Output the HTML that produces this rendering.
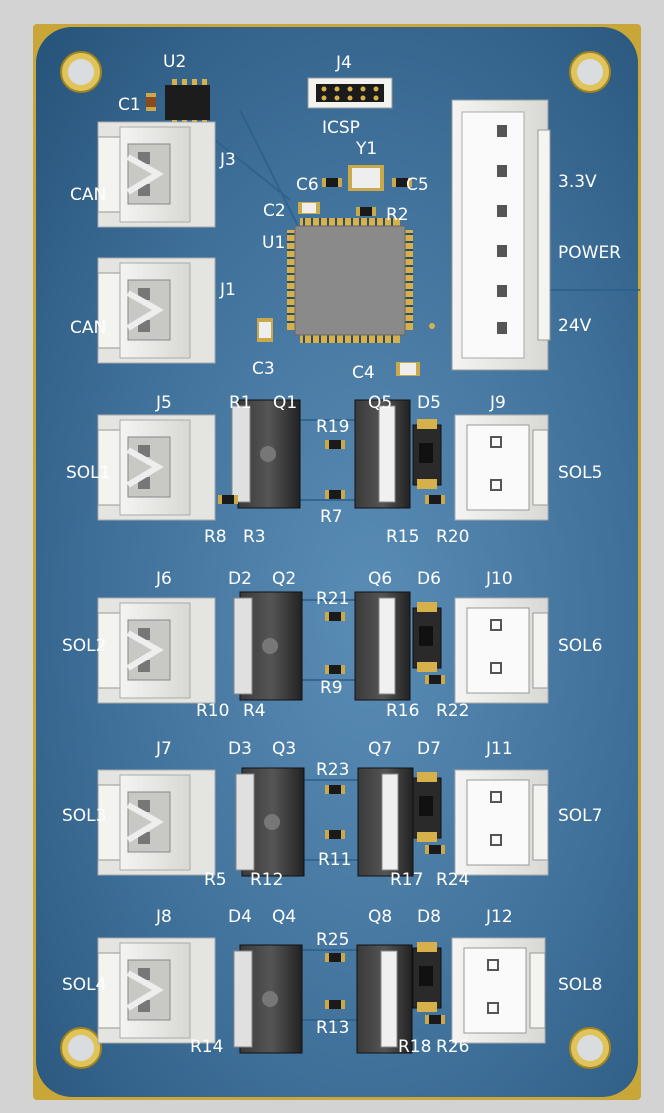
<!DOCTYPE html>
<html><head><meta charset="utf-8"><style>
html,body{margin:0;padding:0;background:#d3d3d3;}
svg{display:block}
text{font-family:"DejaVu Sans","Liberation Sans",sans-serif;fill:#fff;font-size:17px;}
</style></head><body>
<svg width="664" height="1113" viewBox="0 0 664 1113" xmlns="http://www.w3.org/2000/svg">
<defs>
<radialGradient id="bg" cx="0.55" cy="0.55" r="0.75">
<stop offset="0" stop-color="#5a8db6"/><stop offset="0.6" stop-color="#3e6f98"/><stop offset="1" stop-color="#28557c"/>
</radialGradient>
<linearGradient id="wh" x1="0" x2="1"><stop offset="0" stop-color="#f4f4f2"/><stop offset="1" stop-color="#d8d8d4"/></linearGradient>
<linearGradient id="tab" x1="0" x2="1"><stop offset="0" stop-color="#3a3a3a"/><stop offset="0.5" stop-color="#555"/><stop offset="1" stop-color="#222"/></linearGradient>
<g id="conL">
<rect x="0" y="0" width="117" height="105" fill="#e4e4e0" stroke="#aaa"/>
<rect x="0" y="15" width="22" height="75" fill="#f3f3f0" stroke="#999"/>
<rect x="22" y="5" width="70" height="95" fill="url(#wh)" stroke="#aaa"/>
<rect x="30" y="22" width="42" height="60" fill="#c8c8c4" stroke="#888"/>
<rect x="40" y="30" width="12" height="12" fill="#777"/><rect x="40" y="62" width="12" height="12" fill="#777"/>
<path d="M30 35 L60 52 L30 70" fill="none" stroke="#eee" stroke-width="6"/>
</g>
<g id="conR">
<rect x="0" y="0" width="93" height="105" fill="url(#wh)" stroke="#aaa"/>
<rect x="78" y="15" width="15" height="75" fill="#f3f3f0" stroke="#999"/>
<rect x="12" y="10" width="62" height="85" fill="#fafafa" stroke="#999"/>
<rect x="36" y="22" width="10" height="10" fill="none" stroke="#555" stroke-width="2"/>
<rect x="36" y="65" width="10" height="10" fill="none" stroke="#555" stroke-width="2"/>
</g>
<g id="mos">
<rect x="0" y="0" width="62" height="108" fill="url(#tab)" stroke="#111"/>
<rect x="-6" y="6" width="18" height="96" fill="#e0e0e0" stroke="#888"/>
<circle cx="30" cy="54" r="8" fill="#777"/>
</g>
<g id="mosR">
<rect x="0" y="0" width="55" height="108" fill="url(#tab)" stroke="#111"/>
<rect x="24" y="6" width="16" height="96" fill="#f0f0f0" stroke="#888"/>
</g>
<g id="res"><rect x="0" y="0" width="4" height="9" fill="#c9a94a"/><rect x="4" y="0" width="12" height="9" fill="#1a1a1a"/><rect x="16" y="0" width="4" height="9" fill="#c9a94a"/></g>
<g id="diode"><rect x="0" y="0" width="28" height="60" fill="#2a2a2a" stroke="#111"/><rect x="4" y="-6" width="20" height="10" fill="#d6b04a"/><rect x="4" y="54" width="20" height="10" fill="#d6b04a"/><rect x="6" y="18" width="14" height="20" fill="#111"/></g>
</defs>
<rect x="33" y="24" width="608" height="1076" rx="4" fill="#c8a637"/>
<rect x="36" y="27" width="602" height="1070" rx="36" fill="url(#bg)"/>
<g fill="#e0c35a" stroke="#9f8420" stroke-width="2">
<circle cx="81" cy="72" r="20"/><circle cx="590" cy="72" r="20"/><circle cx="81" cy="1048" r="20"/><circle cx="590" cy="1048" r="20"/></g>
<g fill="#d9dde0"><circle cx="81" cy="72" r="13"/><circle cx="590" cy="72" r="13"/><circle cx="81" cy="1048" r="13"/><circle cx="590" cy="1048" r="13"/></g>
<g stroke="#2d5f8c" stroke-width="2" fill="none" opacity="0.8">
<path d="M215 140 L290 200 M240 110 L300 230 M548 290 L640 290 M300 420 L360 420 M300 500 L360 500 M300 600 L360 600 M300 680 L360 680 M300 780 L360 780 M300 860 L360 860 M300 950 L360 950 M300 1020 L360 1020"/>
</g>
<rect x="165" y="85" width="45" height="35" fill="#1c1c1c"/>
<g fill="#d6b04a"><rect x="172" y="79" width="5" height="6"/><rect x="182" y="79" width="5" height="6"/><rect x="192" y="79" width="5" height="6"/><rect x="202" y="79" width="5" height="6"/>
<rect x="172" y="120" width="5" height="6"/><rect x="182" y="120" width="5" height="6"/><rect x="192" y="120" width="5" height="6"/><rect x="202" y="120" width="5" height="6"/></g>
<rect x="146" y="93" width="10" height="18" fill="#c9a94a"/><rect x="146" y="97" width="10" height="10" fill="#8a4a20"/>
<rect x="308" y="78" width="84" height="30" fill="#f2f2ee" stroke="#999"/>
<rect x="316" y="84" width="68" height="18" fill="#1b1b1b"/>
<g fill="#d6b04a"><circle cx="324" cy="89" r="2.5"/><circle cx="337" cy="89" r="2.5"/><circle cx="350" cy="89" r="2.5"/><circle cx="363" cy="89" r="2.5"/><circle cx="376" cy="89" r="2.5"/>
<circle cx="324" cy="98" r="2.5"/><circle cx="337" cy="98" r="2.5"/><circle cx="350" cy="98" r="2.5"/><circle cx="363" cy="98" r="2.5"/><circle cx="376" cy="98" r="2.5"/></g>
<rect x="348" y="165" width="36" height="26" fill="#c9a94a"/><rect x="352" y="168" width="28" height="20" fill="#eee"/>
<use href="#res" x="322" y="178"/><use href="#res" x="392" y="178"/>
<rect x="298" y="202" width="22" height="12" fill="#c9a94a"/><rect x="302" y="203" width="14" height="10" fill="#eee"/>
<use href="#res" x="356" y="207"/>
<g fill="#d6b04a">
<rect x="300" y="218" width="100" height="8"/><rect x="300" y="335" width="100" height="8"/>
<rect x="287" y="230" width="8" height="100"/><rect x="405" y="230" width="8" height="100"/></g>
<g stroke="#2e4b6a" stroke-width="2">
<path d="M304 218v8M312 218v8M320 218v8M328 218v8M336 218v8M344 218v8M352 218v8M360 218v8M368 218v8M376 218v8M384 218v8M392 218v8"/>
<path d="M304 335v8M312 335v8M320 335v8M328 335v8M336 335v8M344 335v8M352 335v8M360 335v8M368 335v8M376 335v8M384 335v8M392 335v8"/>
<path d="M287 234h8M287 242h8M287 250h8M287 258h8M287 266h8M287 274h8M287 282h8M287 290h8M287 298h8M287 306h8M287 314h8M287 322h8"/>
<path d="M405 234h8M405 242h8M405 250h8M405 258h8M405 266h8M405 274h8M405 282h8M405 290h8M405 298h8M405 306h8M405 314h8M405 322h8"/></g>
<rect x="295" y="226" width="110" height="109" fill="#8a8a8a" stroke="#666"/>
<rect x="257" y="318" width="16" height="24" fill="#c9a94a"/><rect x="259" y="322" width="12" height="16" fill="#eee"/>
<rect x="396" y="362" width="24" height="14" fill="#c9a94a"/><rect x="400" y="363" width="16" height="12" fill="#eee"/>
<circle cx="432" cy="326" r="3" fill="#d6b04a"/>
<use href="#conL" x="98" y="122"/><use href="#conL" x="98" y="258"/>
<rect x="452" y="100" width="96" height="270" fill="url(#wh)" stroke="#999"/>
<rect x="538" y="130" width="12" height="210" fill="#f4f4f0" stroke="#999"/>
<rect x="462" y="112" width="62" height="246" fill="#fafafa" stroke="#aaa"/>
<g fill="#555"><rect x="497" y="125" width="10" height="12"/><rect x="497" y="165" width="10" height="12"/><rect x="497" y="205" width="10" height="12"/><rect x="497" y="245" width="10" height="12"/><rect x="497" y="285" width="10" height="12"/><rect x="497" y="322" width="10" height="12"/></g>
<g>
<use href="#conL" x="98" y="415"/><use href="#conR" x="455" y="415"/>
<use href="#mos" x="238" y="400"/><use href="#mosR" x="355" y="400"/>
<use href="#diode" x="413" y="425"/>
<use href="#res" x="325" y="440"/><use href="#res" x="325" y="490"/><use href="#res" x="218" y="495"/><use href="#res" x="425" y="495"/>
<use href="#conL" x="98" y="598"/><use href="#conR" x="455" y="598"/>
<use href="#mos" x="240" y="592"/><use href="#mosR" x="355" y="592"/>
<use href="#diode" x="413" y="608"/>
<use href="#res" x="325" y="612"/><use href="#res" x="325" y="665"/><use href="#res" x="425" y="675"/>
<use href="#conL" x="98" y="770"/><use href="#conR" x="455" y="770"/>
<use href="#mos" x="242" y="768"/><use href="#mosR" x="358" y="768"/>
<use href="#diode" x="413" y="778"/>
<use href="#res" x="325" y="785"/><use href="#res" x="325" y="830"/><use href="#res" x="425" y="845"/>
<use href="#conL" x="98" y="938"/><use href="#conR" x="452" y="938"/>
<use href="#mos" x="240" y="945"/><use href="#mosR" x="357" y="945"/>
<use href="#diode" x="413" y="948"/>
<use href="#res" x="325" y="953"/><use href="#res" x="325" y="1000"/><use href="#res" x="425" y="1015"/>
</g>
<g>
<text x="163" y="67">U2</text><text x="118" y="110">C1</text><text x="336" y="68">J4</text><text x="322" y="133">ICSP</text>
<text x="220" y="165">J3</text><text x="70" y="200">CAN</text><text x="220" y="295">J1</text><text x="70" y="333">CAN</text>
<text x="356" y="154">Y1</text><text x="296" y="190">C6</text><text x="406" y="190">C5</text><text x="263" y="216">C2</text><text x="386" y="220">R2</text><text x="262" y="248">U1</text>
<text x="252" y="374">C3</text><text x="352" y="378">C4</text>
<text x="558" y="187">3.3V</text><text x="558" y="258">POWER</text><text x="558" y="331">24V</text>
<text x="156" y="408">J5</text><text x="229" y="408">R1</text><text x="273" y="408">Q1</text><text x="316" y="432">R19</text><text x="368" y="408">Q5</text><text x="417" y="408">D5</text><text x="490" y="408">J9</text>
<text x="66" y="478">SOL1</text><text x="558" y="478">SOL5</text><text x="320" y="522">R7</text>
<text x="204" y="542">R8</text><text x="243" y="542">R3</text><text x="386" y="542">R15</text><text x="436" y="542">R20</text>
<text x="156" y="584">J6</text><text x="228" y="584">D2</text><text x="272" y="584">Q2</text><text x="316" y="604">R21</text><text x="368" y="584">Q6</text><text x="417" y="584">D6</text><text x="486" y="584">J10</text>
<text x="62" y="651">SOL2</text><text x="558" y="651">SOL6</text><text x="320" y="693">R9</text>
<text x="196" y="716">R10</text><text x="243" y="716">R4</text><text x="386" y="716">R16</text><text x="436" y="716">R22</text>
<text x="156" y="754">J7</text><text x="228" y="754">D3</text><text x="272" y="754">Q3</text><text x="316" y="775">R23</text><text x="368" y="754">Q7</text><text x="417" y="754">D7</text><text x="486" y="754">J11</text>
<text x="62" y="821">SOL3</text><text x="558" y="821">SOL7</text><text x="318" y="865">R11</text>
<text x="204" y="885">R5</text><text x="250" y="885">R12</text><text x="390" y="885">R17</text><text x="436" y="885">R24</text>
<text x="156" y="922">J8</text><text x="228" y="922">D4</text><text x="272" y="922">Q4</text><text x="316" y="945">R25</text><text x="368" y="922">Q8</text><text x="417" y="922">D8</text><text x="486" y="922">J12</text>
<text x="62" y="990">SOL4</text><text x="558" y="990">SOL8</text><text x="316" y="1033">R13</text>
<text x="190" y="1052">R14</text><text x="398" y="1052">R18</text><text x="436" y="1052">R26</text>
</g>
</svg>
</body></html>
